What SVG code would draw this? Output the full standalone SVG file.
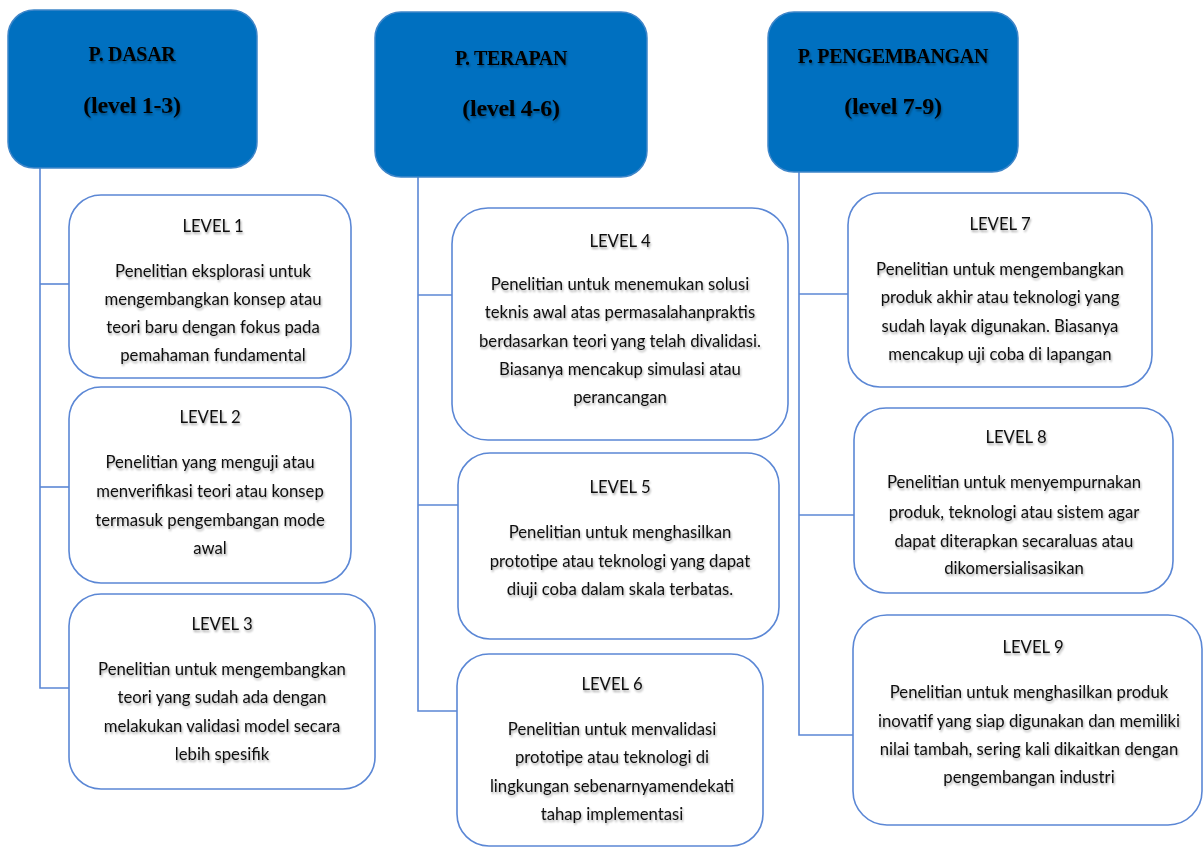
<svg xmlns="http://www.w3.org/2000/svg" width="1203" height="847" viewBox="0 0 1203 847">
<defs>
<filter id="sh" x="-10%" y="-30%" width="120%" height="160%">
<feGaussianBlur in="SourceAlpha" stdDeviation="1.2"/>
<feOffset dx="1" dy="1.5" result="b"/>
<feComponentTransfer><feFuncA type="linear" slope="0.35"/></feComponentTransfer>
<feMerge><feMergeNode/><feMergeNode in="SourceGraphic"/></feMerge>
</filter>
</defs>
<style>
.hdr{fill:#0070C0;stroke:#3F86C9;stroke-width:1.5}
.box{fill:#ffffff;stroke:#5B87D5;stroke-width:1.6}
.conn{fill:none;stroke:#5B87D5;stroke-width:1.6}
.ht{font-family:"Liberation Serif","Times New Roman",serif;font-weight:bold;fill:#000;text-anchor:middle;letter-spacing:-0.3px}
.t1{font-size:20px}
.t2{font-size:24px}
.bt{font-family:Lato,"Open Sans","Liberation Sans",sans-serif;font-size:16.7px;fill:#111;text-anchor:middle}
</style>
<rect width="1203" height="847" fill="#ffffff"/>
<g id="connectors">
<polyline class="conn" points="40,168 40,688 69,688"/>
<line class="conn" x1="40" y1="284" x2="69" y2="284"/>
<line class="conn" x1="40" y1="487" x2="69" y2="487"/>
<polyline class="conn" points="418,177 418,711 457,711"/>
<line class="conn" x1="418" y1="295" x2="452" y2="295"/>
<line class="conn" x1="418" y1="505" x2="458" y2="505"/>
<polyline class="conn" points="799,172 799,735 853,735"/>
<line class="conn" x1="799" y1="294" x2="848" y2="294"/>
<line class="conn" x1="799" y1="515" x2="854" y2="515"/>
</g>
<g id="header-dasar">
<rect class="hdr" x="8" y="10" width="249" height="158" rx="26"/>
<g filter="url(#sh)">
<text class="ht t1" x="132" y="61">P. DASAR</text>
<text class="ht t2" x="132" y="113">(level 1-3)</text>
</g>
</g>
<g id="header-terapan">
<rect class="hdr" x="375" y="12" width="272" height="165" rx="26"/>
<g filter="url(#sh)">
<text class="ht t1" x="511" y="65">P. TERAPAN</text>
<text class="ht t2" x="511" y="116">(level 4-6)</text>
</g>
</g>
<g id="header-pengembangan">
<rect class="hdr" x="768" y="12" width="250" height="160" rx="26"/>
<g filter="url(#sh)">
<text class="ht t1" x="893" y="63">P. PENGEMBANGAN</text>
<text class="ht t2" x="893" y="114">(level 7-9)</text>
</g>
</g>
<g id="level1">
<rect class="box" x="69" y="195" width="282" height="183" rx="32"/>
<g filter="url(#sh)">
<text class="bt" x="213" y="232">LEVEL 1</text>
<text class="bt" x="213" y="277">Penelitian eksplorasi untuk</text>
<text class="bt" x="213" y="305">mengembangkan konsep atau</text>
<text class="bt" x="213" y="333">teori baru dengan fokus pada</text>
<text class="bt" x="213" y="361">pemahaman fundamental</text>
</g>
</g>
<g id="level2">
<rect class="box" x="69" y="387" width="282" height="196" rx="32"/>
<g filter="url(#sh)">
<text class="bt" x="210" y="423">LEVEL 2</text>
<text class="bt" x="210" y="468">Penelitian yang menguji atau</text>
<text class="bt" x="210" y="497">menverifikasi teori atau konsep</text>
<text class="bt" x="210" y="526">termasuk pengembangan mode</text>
<text class="bt" x="210" y="554">awal</text>
</g>
</g>
<g id="level3">
<rect class="box" x="69" y="594" width="306" height="195" rx="32"/>
<g filter="url(#sh)">
<text class="bt" x="222" y="630">LEVEL 3</text>
<text class="bt" x="222" y="675">Penelitian untuk mengembangkan</text>
<text class="bt" x="222" y="703">teori yang sudah ada dengan</text>
<text class="bt" x="222" y="732">melakukan validasi model secara</text>
<text class="bt" x="222" y="760">lebih spesifik</text>
</g>
</g>
<g id="level4">
<rect class="box" x="452" y="208" width="336" height="232" rx="36"/>
<g filter="url(#sh)">
<text class="bt" x="620" y="247">LEVEL 4</text>
<text class="bt" x="620" y="290">Penelitian untuk menemukan solusi</text>
<text class="bt" x="620" y="318">teknis awal atas permasalahanpraktis</text>
<text class="bt" x="620" y="347">berdasarkan teori yang telah divalidasi.</text>
<text class="bt" x="620" y="375">Biasanya mencakup simulasi atau</text>
<text class="bt" x="620" y="403">perancangan</text>
</g>
</g>
<g id="level5">
<rect class="box" x="458" y="453" width="321" height="186" rx="32"/>
<g filter="url(#sh)">
<text class="bt" x="620" y="493">LEVEL 5</text>
<text class="bt" x="620" y="538">Penelitian untuk menghasilkan</text>
<text class="bt" x="620" y="567">prototipe atau teknologi yang dapat</text>
<text class="bt" x="620" y="595">diuji coba dalam skala terbatas.</text>
</g>
</g>
<g id="level6">
<rect class="box" x="457" y="654" width="306" height="192" rx="32"/>
<g filter="url(#sh)">
<text class="bt" x="612" y="690">LEVEL 6</text>
<text class="bt" x="612" y="735">Penelitian untuk menvalidasi</text>
<text class="bt" x="612" y="763">prototipe atau teknologi di</text>
<text class="bt" x="612" y="792">lingkungan sebenarnyamendekati</text>
<text class="bt" x="612" y="820">tahap implementasi</text>
</g>
</g>
<g id="level7">
<rect class="box" x="848" y="193" width="304" height="194" rx="32"/>
<g filter="url(#sh)">
<text class="bt" x="1000" y="230">LEVEL 7</text>
<text class="bt" x="1000" y="275">Penelitian untuk mengembangkan</text>
<text class="bt" x="1000" y="303">produk akhir atau teknologi yang</text>
<text class="bt" x="1000" y="332">sudah layak digunakan. Biasanya</text>
<text class="bt" x="1000" y="360">mencakup uji coba di lapangan</text>
</g>
</g>
<g id="level8">
<rect class="box" x="854" y="408" width="319" height="185" rx="32"/>
<g filter="url(#sh)">
<text class="bt" x="1016" y="443">LEVEL 8</text>
<text class="bt" x="1014" y="488">Penelitian untuk menyempurnakan</text>
<text class="bt" x="1014" y="518">produk, teknologi atau sistem agar</text>
<text class="bt" x="1014" y="547">dapat diterapkan secaraluas atau</text>
<text class="bt" x="1014" y="574">dikomersialisasikan</text>
</g>
</g>
<g id="level9">
<rect class="box" x="853" y="615" width="349" height="210" rx="34"/>
<g filter="url(#sh)">
<text class="bt" x="1033" y="653">LEVEL 9</text>
<text class="bt" x="1029" y="698">Penelitian untuk menghasilkan produk</text>
<text class="bt" x="1029" y="727">inovatif yang siap digunakan dan memiliki</text>
<text class="bt" x="1029" y="755">nilai tambah, sering kali dikaitkan dengan</text>
<text class="bt" x="1029" y="783">pengembangan  industri</text>
</g>
</g>
</svg>
